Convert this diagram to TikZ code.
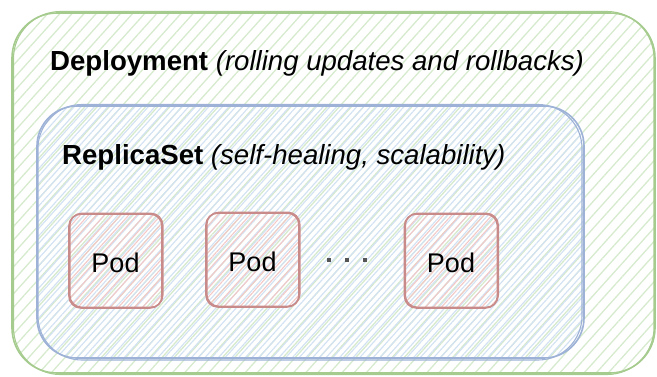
\documentclass[tikz,border=0pt]{standalone}
\usepackage{fontspec}
\setmainfont{Liberation Sans}
\usetikzlibrary{patterns.meta}

\definecolor{grnline}{HTML}{A6CB8E}
\definecolor{grnfill}{HTML}{D6EACD}
\definecolor{bluline}{HTML}{9DB2D6}
\definecolor{blufill}{HTML}{D3E2F3}
\definecolor{redline}{HTML}{C98B89}
\definecolor{redfill}{HTML}{F2C9C7}
\definecolor{dotgrey}{HTML}{555555}

\tikzset{
  sketchtext/.style={font=\fontsize{27.6}{32}\selectfont, inner sep=0pt},
  hatch/.style n args={3}{pattern={Lines[angle=48,distance=#2,line width=#3]}, pattern color=#1},
  pod/.style={
    minimum width=93pt, minimum height=94pt, rounded corners=12pt,
    hatch={redfill}{6pt}{1.1pt},
    draw=redline, line width=1.6pt,
    postaction={draw=redline, line width=1.2pt, transform canvas={xshift=0.9pt, yshift=0.8pt}},
    font=\fontsize{27}{32}\selectfont, inner sep=0pt,
    text height=23.4pt, text depth=0pt
  },
  dotsq/.style={fill=dotgrey, minimum size=3.6pt, inner sep=0pt}
}

\begin{document}
\begin{tikzpicture}[x=1pt,y=-1pt]
  \useasboundingbox (0,0) rectangle (657,376);

  % Deployment container
  \fill[hatch={grnfill}{9pt}{1.3pt}, rounded corners=45pt] (12,13) rectangle (655,373);
  \draw[grnline, line width=1.6pt, rounded corners=45pt] (12,13) rectangle (655,373);
  \draw[grnline, line width=1.1pt, rounded corners=47pt] (13.5,11.5) rectangle (654,374.5);
  \node[sketchtext, anchor=base west] (deploy) at (50,70)
    {\textbf{Deployment} \textit{(rolling updates and rollbacks)}};

  % ReplicaSet container
  \fill[hatch={blufill}{5pt}{1.2pt}, rounded corners=40pt] (37,106) rectangle (584,358);
  \draw[bluline, line width=1.6pt, rounded corners=40pt] (37,106) rectangle (584,358);
  \draw[bluline, line width=1.1pt, rounded corners=44pt] (38,104.5) rectangle (582,360);
  \node[sketchtext, anchor=base west] (rs) at (62,164)
    {\textbf{ReplicaSet} \textit{(self-healing, scalability)}};

  % Pods
  \node[pod] (pod1) at (115.5,261) {Pod};
  \node[pod] (pod2) at (252.5,260) {Pod};
  \node[pod] (pod3) at (451,261) {Pod};

  % Ellipsis between the pods
  \node[dotsq] (d1) at (329,260) {};
  \node[dotsq] (d2) at (347,260) {};
  \node[dotsq] (d3) at (365,260) {};
\end{tikzpicture}
\end{document}
